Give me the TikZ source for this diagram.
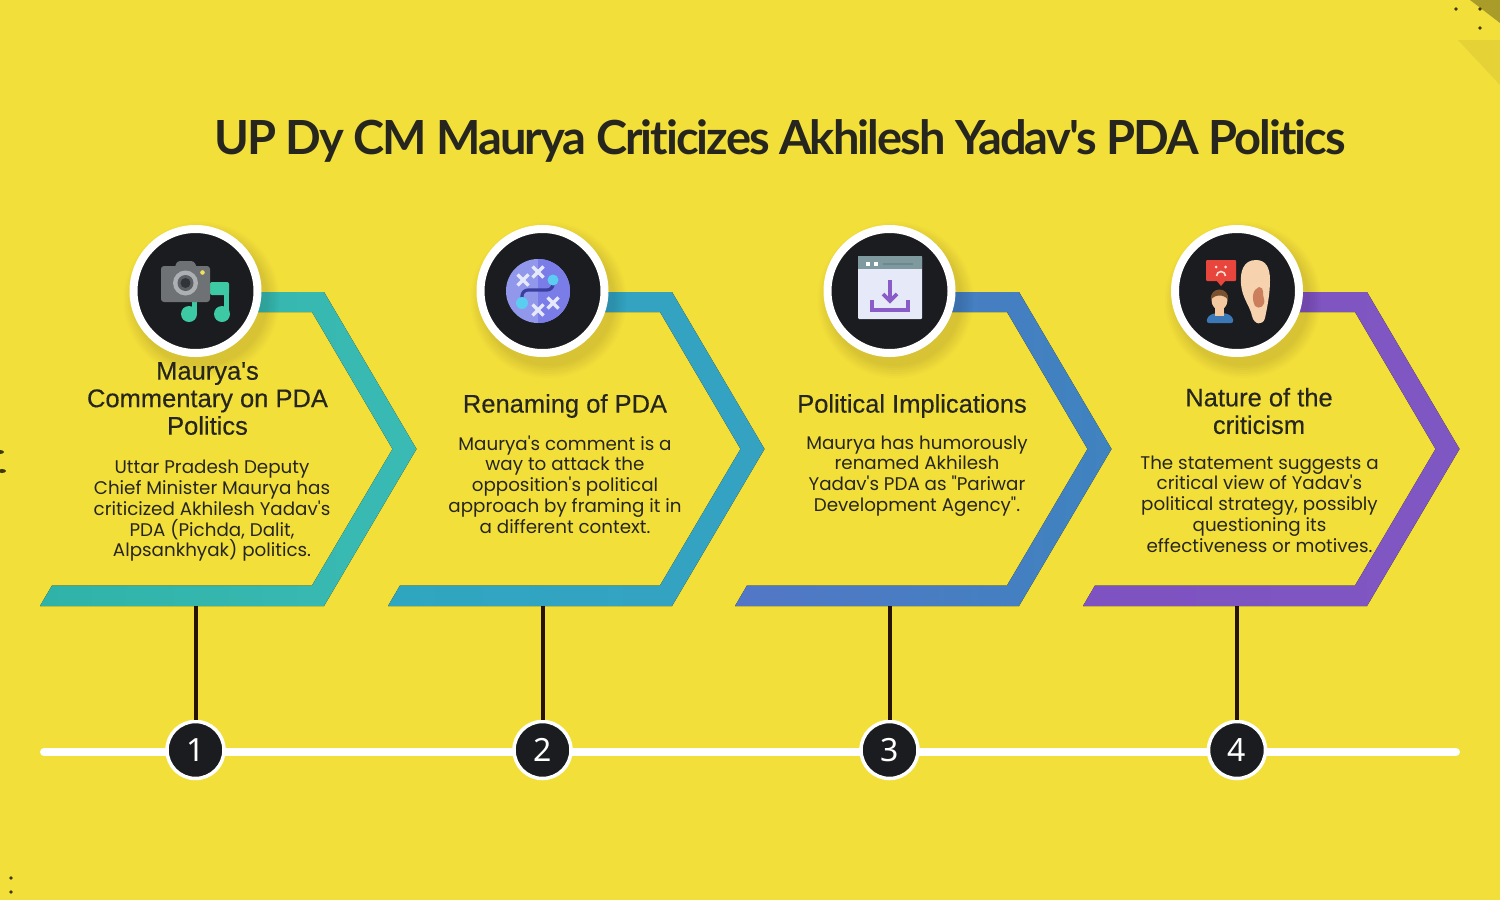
\documentclass[tikz,border=0pt]{standalone}
\usepackage{fontspec}
\setmainfont[Ligatures=TeXOff]{Poppins}
\newfontfamily\headfont[FakeBold=0.35]{Liberation Sans}
\newfontfamily\numfont{Noto Sans}
\newfontfamily\titlefont[LetterSpace=-4.2,Ligatures=NoCommon]{Lato}
\usetikzlibrary{calc}
\definecolor{bg}{HTML}{F3DF3A}
\definecolor{ink}{HTML}{1B1C20}
\definecolor{txt}{HTML}{26261F}
\definecolor{ca}{HTML}{2FB3A8}\definecolor{cb}{HTML}{3ABAB4}
\definecolor{cc}{HTML}{2FA6C0}\definecolor{cd}{HTML}{35A2C2}
\definecolor{ce}{HTML}{5277C6}\definecolor{cf}{HTML}{3F83BF}
\definecolor{cg}{HTML}{7E52C0}\definecolor{ch}{HTML}{7F57C2}
\definecolor{note}{HTML}{3CC9A4}
\definecolor{cam}{HTML}{6E7275}\definecolor{lensa}{HTML}{ACB0B3}
\definecolor{lensb}{HTML}{5C6064}\definecolor{lensc}{HTML}{323438}
\definecolor{camdot}{HTML}{F0E05A}
\definecolor{plana}{HTML}{9197EA}\definecolor{planb}{HTML}{7A7DE8}
\definecolor{planl}{HTML}{3A3E9E}\definecolor{planx}{HTML}{E6E9FB}
\definecolor{plandot}{HTML}{5ACDF0}
\definecolor{winb}{HTML}{E6E9F8}\definecolor{winh}{HTML}{7F9A9F}
\definecolor{winbar}{HTML}{6C8890}\definecolor{winp}{HTML}{8A5CC8}
\definecolor{bub}{HTML}{E8453C}\definecolor{bubf}{HTML}{FAE1D7}
\definecolor{shirt}{HTML}{3A78B8}\definecolor{skin}{HTML}{F5C9A0}
\definecolor{hair}{HTML}{7A5230}\definecolor{ear}{HTML}{F6D2AE}
\definecolor{earin}{HTML}{CB7F5C}
\tikzset{
 x=1pt,y=-1pt,
 badge/.style={circle,draw=white,line width=8pt,fill=ink,minimum size=124pt,inner sep=0pt},
 numdot/.style={circle,draw=white,line width=3.5pt,fill=ink,minimum size=57pt,inner sep=0pt,text=white,font=\numfont\fontsize{32}{32}\selectfont},
 stem/.style={line width=4pt,draw=black!85!orange},
 rail/.style={line width=8pt,draw=white,line cap=round},
 headtext/.style={align=center,text=txt,font=\headfont\fontsize{25.5}{27.5}\selectfont,inner sep=0pt},
 bodytext/.style={align=center,text=txt,font=\fontsize{18.3}{20.8}\selectfont,inner sep=0pt},
 dotmark/.style={fill=black!75!bg,draw=none},
}
\newcommand{\softshadow}[2]{%
 \foreach \r in {66,68,...,78}{\fill[black,opacity=0.014] (#1+6,#2+9) circle[radius=\r pt];}}
\newcommand{\chev}[3]{%
 \fill[left color=#2,right color=#3] (#1,606) -- (#1+12,585.5) -- (#1+272,585.5) -- (#1+352.5,449) -- (#1+272,312) -- (#1+210,312) -- (#1+210,292) -- (#1+284,292) -- (#1+376.5,449) -- (#1+284,606) -- cycle;}
\begin{document}
\begin{tikzpicture}
\useasboundingbox (0,0) rectangle (1500,900);
\fill[bg] (0,0) rectangle (1500,900);
% corner decoration
\fill[black!30!bg] (1470,0) -- (1500,0) -- (1500,23) -- cycle;
\fill[black!6!bg] (1458,40) -- (1500,40) -- (1500,85) -- cycle;
\foreach \p in {(1456,9),(1480,9),(1480,28),(11,878),(11,892)}{\fill[dotmark] \p circle[radius=1.8pt];}
\fill[dotmark] (0,452) ellipse[x radius=4pt,y radius=2pt];
\fill[dotmark] (2,471) ellipse[x radius=4pt,y radius=2pt];
% chevrons
\chev{40}{ca}{cb}
\chev{388}{cc}{cd}
\chev{735}{ce}{cf}
\chev{1083}{cg}{ch}
% rail and stems
\coordinate (r0) at (44,752);
\coordinate (r1) at (1456,752);
\draw[rail] (r0) -- (r1);
\coordinate (s1) at (195.5,606);
\coordinate (s2) at (542.5,606);
\coordinate (s3) at (889.5,606);
\coordinate (s4) at (1237,606);
\node[numdot] (n1) at (195.5,750) {1};
\node[numdot] (n2) at (542.5,750) {2};
\node[numdot] (n3) at (889.5,750) {3};
\node[numdot] (n4) at (1237,750) {4};
\draw[stem] (s1) -- (n1);
\draw[stem] (s2) -- (n2);
\draw[stem] (s3) -- (n3);
\draw[stem] (s4) -- (n4);
% badges
\softshadow{195.5}{291}
\softshadow{542.5}{291}
\softshadow{889.5}{291}
\softshadow{1237}{291}
\node[badge] (b1) at (195.5,291) {};
\node[badge] (b2) at (542.5,291) {};
\node[badge] (b3) at (889.5,291) {};
\node[badge] (b4) at (1237,291) {};
% icon 1: camera and note
\fill[note,rounded corners=2pt] (210,282) rectangle (229,295);
\fill[note] (224,285) rectangle (229,314);
\fill[note] (192,298) rectangle (197,314);
\fill[note] (189,314) circle[radius=8pt];
\fill[note] (222,314) circle[radius=8pt];
\fill[cam,rounded corners=3pt] (161,266) rectangle (210,302);
\fill[cam,rounded corners=3pt] (174,270) -- (177,261) -- (194,261) -- (198,270) -- cycle;
\fill[lensa] (185.5,283) circle[radius=12.5pt];
\fill[lensb] (185.5,283) circle[radius=8pt];
\fill[lensc] (185.5,283) circle[radius=5pt];
\fill[camdot] (202.5,272.5) circle[radius=2.3pt];
% icon 2: plan
\fill[plana] (538,291) circle[radius=32pt];
\fill[planb] (538,259) arc[start angle=90,end angle=-90,radius=32pt] -- cycle;
\draw[line width=3.2pt,planl,rounded corners=6pt] (553,280) -- (553,290) -- (522,290) -- (522,303);
\foreach \c in {(523,280),(538,272),(553,303),(538,310)}{
 \draw[line width=3.4pt,planx] \c +(-5.5,-5.5) -- +(5.5,5.5) \c +(5.5,-5.5) -- +(-5.5,5.5);}
\fill[plandot] (553,280) circle[radius=5.5pt];
\fill[plandot] (522,303) circle[radius=6pt];
% icon 3: window
\fill[winb,rounded corners=1pt] (858,256) rectangle (922,319);
\fill[winh] (858,256) rectangle (922,269);
\fill[white] (866,261.5) rectangle (870,266);
\fill[white] (874,261.5) rectangle (878,266);
\fill[winbar] (883,263) rectangle (913,265);
\draw[line width=3.2pt,winp] (890,280) -- (890,301);
\draw[line width=3.6pt,winp] (883,294) -- (890,301) -- (897,294);
\draw[line width=3.2pt,winp] (872,300) -- (872,310) -- (908,310) -- (908,300);
% icon 4: person and ear
\fill[bub,rounded corners=1pt] (1206,260) rectangle (1236,281);
\fill[bub] (1216,280) -- (1226,280) -- (1221,286) -- cycle;
\fill[bubf] (1216,267) circle[radius=1.5pt];
\fill[bubf] (1225.5,267) circle[radius=1.5pt];
\draw[line width=1.6pt,bubf] (1216.5,276) arc[start angle=180,end angle=0,radius=4.5pt];
\fill[shirt,rounded corners=3pt] (1206,323) -- (1208,316) -- (1215,313) -- (1225,313) -- (1232,316) -- (1234,323) -- cycle;
\fill[skin] (1215,306) rectangle (1224,316);
\fill[skin] (1219.5,300) ellipse[x radius=8pt,y radius=10pt];
\fill[hair] (1211,300) .. controls (1209,286) and (1230,286) .. (1228,300) .. controls (1225,294) and (1214,294) .. (1211,300) -- cycle;
\fill[ear] (1256,260) .. controls (1243,260) and (1240,272) .. (1241,284) .. controls (1242,298) and (1250,306) .. (1252,316) .. controls (1254,325) and (1263,326) .. (1265,318) .. controls (1267,308) and (1270,295) .. (1270,280) .. controls (1270,268) and (1266,260) .. (1256,260) -- cycle;
\fill[earin] (1259,287) .. controls (1253,289) and (1251,298) .. (1255,306) .. controls (1259,310) and (1266,306) .. (1264,299) .. controls (1262,295) and (1265,287) .. (1259,287) -- cycle;
% title
\node[inner sep=0pt,text=txt,anchor=base] (title) at (780,154) {\titlefont\bfseries\fontsize{47}{50}\selectfont UP Dy CM Maurya Criticizes Akhilesh Yadav's PDA Politics};
% texts
\node[headtext] (h1) at (207.5,398.5) {Maurya's\\Commentary on PDA\\Politics};
\node[bodytext] (t1) at (212,511) {Uttar Pradesh Deputy\\Chief Minister Maurya has\\criticized Akhilesh Yadav's\\PDA (Pichda, Dalit,\\Alpsankhyak) politics.};
\node[headtext] (h2) at (565,406) {Renaming of PDA};
\node[bodytext] (t2) at (565,484.5) {Maurya's comment is a\\way to attack the\\opposition's political\\approach by framing it in\\a different context.};
\node[headtext] (h3) at (912,406) {Political Implications};
\node[bodytext] (t3) at (917,476) {Maurya has humorously\\renamed Akhilesh\\Yadav's PDA as "Pariwar\\Development Agency".};
\node[headtext] (h4) at (1259,411) {Nature of the\\criticism};
\node[bodytext] (t4) at (1259.5,504) {The statement suggests a\\critical view of Yadav's\\political strategy, possibly\\questioning its\\effectiveness or motives.};
\end{tikzpicture}
\end{document}
